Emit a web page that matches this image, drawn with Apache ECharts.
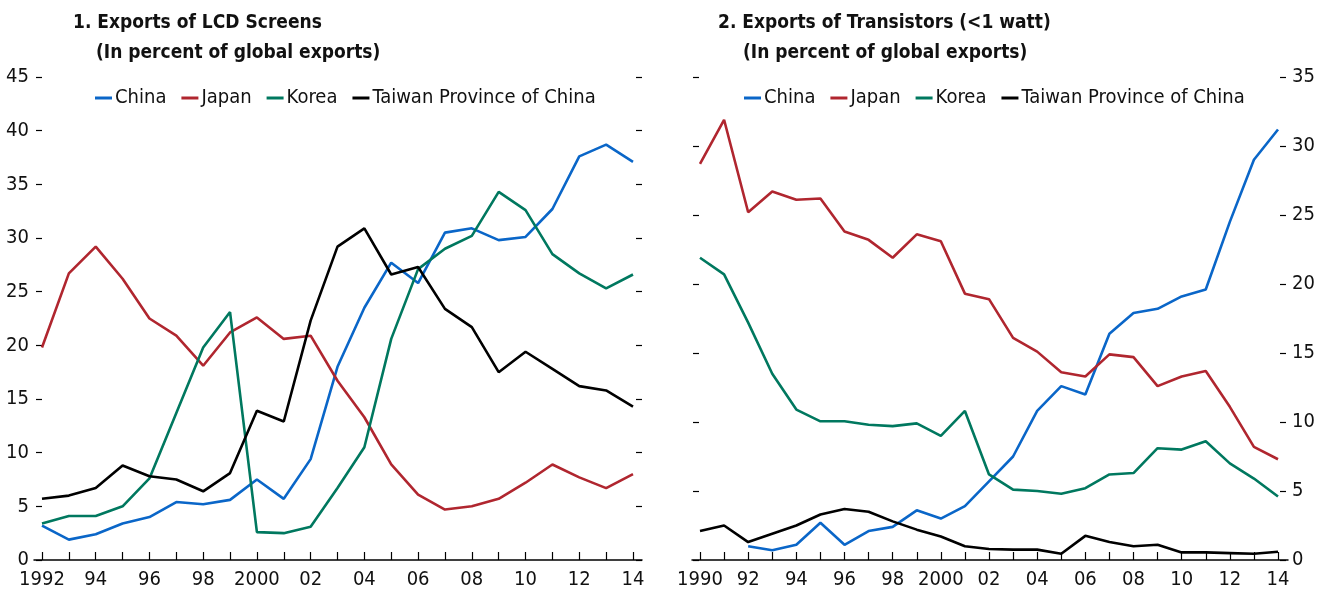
<!DOCTYPE html>
<html>
<head>
<meta charset="utf-8">
<script src="https://cdn.jsdelivr.net/npm/echarts@6/dist/echarts.min.js"></script>
<style>
body{margin:0;background:#fff}
#main{width:1325px;height:598px}
</style>
</head>
<body>
<div id="main"></div>
<script>
/*数据*/
var yearsLcd=['1992','1993','1994','1995','1996','1997','1998','1999','2000','2001','2002','2003','2004','2005','2006','2007','2008','2009','2010','2011','2012','2013','2014'];
var yearsTr=['1990','1991','1992','1993','1994','1995','1996','1997','1998','1999','2000','2001','2002','2003','2004','2005','2006','2007','2008','2009','2010','2011','2012','2013','2014'];
var seriesNames=['China','Japan','Korea','Taiwan Province of China'];
var lcdChina=[3.2,1.9,2.4,3.4,4.0,5.4,5.2,5.6,7.5,5.7,9.4,18.0,23.5,27.7,25.8,30.5,30.9,29.8,30.1,32.7,37.6,38.7,37.1];
var lcdJapan=[19.8,26.7,29.2,26.2,22.5,20.9,18.1,21.2,22.6,20.6,20.9,16.7,13.3,8.9,6.1,4.7,5.0,5.7,7.2,8.9,7.7,6.7,8.0];
var lcdKorea=[3.4,4.1,4.1,5.0,7.6,13.7,19.8,23.1,2.6,2.5,3.1,6.7,10.5,20.6,27.1,29.0,30.2,34.3,32.6,28.5,26.7,25.3,26.6];
var lcdTaiwan=[5.7,6.0,6.7,8.8,7.8,7.5,6.4,8.1,13.9,12.9,22.3,29.2,30.9,26.6,27.3,23.4,21.7,17.5,19.4,17.8,16.2,15.8,14.3];
var trChina=[null,null,1.0,0.7,1.1,2.7,1.1,2.1,2.4,3.6,3.0,3.9,5.7,7.5,10.8,12.6,12.0,16.4,17.9,18.2,19.1,19.6,24.5,29.0,31.2];
var trJapan=[28.7,31.9,25.2,26.7,26.1,26.2,23.8,23.2,21.9,23.6,23.1,19.3,18.9,16.1,15.1,13.6,13.3,14.9,14.7,12.6,13.3,13.7,11.1,8.2,7.3];
var trKorea=[21.9,20.7,17.2,13.5,10.9,10.05,10.05,9.8,9.7,9.9,9.0,10.8,6.2,5.1,5.0,4.8,5.2,6.2,6.3,8.1,8.0,8.6,7.0,5.9,4.6];
var trTaiwan=[2.1,2.5,1.3,1.9,2.5,3.3,3.7,3.5,2.8,2.2,1.7,1.0,0.8,0.75,0.75,0.45,1.75,1.3,1.0,1.1,0.55,0.55,0.5,0.45,0.6];
var colors=['#0a66c8','#b0262f','#00785f','#000000'];

var fontF='"Liberation Sans Narrow","DejaVu Sans Condensed",sans-serif';
var myChart=echarts.init(document.getElementById('main'),null,{renderer:'canvas'});

// 第一个标签写全年份, 2000 也写全
function xAx(idx,data){
	return {
		type:'category',gridIndex:idx,data:data,boundaryGap:false,
		axisLine:{show:false},
		axisTick:{show:true,inside:true,length:8,interval:0,lineStyle:{color:'#000',width:1.2}},
		axisLabel:{
			interval:function(i,v){return parseInt(v)%2===0;},
			formatter:function(v,i){
				if(i===0||v==='2000')return v;
				return v.slice(2);
			},
			color:'#111',fontSize:20,fontFamily:fontF,margin:10
		},
		splitLine:{show:false}
	}
}
function yAx(idx,max,pos,showLabel,offset,margin){
	return {
		type:'value',gridIndex:idx,min:0,max:max,interval:5,position:pos,offset:offset,
		axisLine:{show:false},
		axisTick:{show:true,length:6,lineStyle:{color:'#000',width:1.2}},
		axisLabel:{show:showLabel,color:'#111',fontSize:20,fontFamily:fontF,margin:margin},
		splitLine:{show:false}
	}
}
// 只画底线的坐标轴, 比数据区宽一点
function baseX(idx){
	return {type:'value',gridIndex:idx,min:0,max:1,show:true,
		axisLine:{show:true,onZero:false,lineStyle:{color:'#000',width:1.5}},
		axisTick:{show:false},axisLabel:{show:false},splitLine:{show:false}};
}
function baseY(idx){
	return {type:'value',gridIndex:idx,min:0,max:1,show:false};
}
function mk(name,data,x,y,i){
	return {name:name,type:'line',data:data,xAxisIndex:x,yAxisIndex:y,symbol:'none',
		lineStyle:{width:2.6,color:colors[i]},itemStyle:{color:colors[i]},connectNulls:false,z:3};
}
var titleStyle={color:'#111',fontSize:19,fontWeight:'bold',fontFamily:fontF};
var legendBase={
	data:seriesNames,icon:'rect',itemWidth:17,itemHeight:3,itemGap:15,top:83,
	textStyle:{color:'#111',fontSize:20,fontFamily:fontF,padding:[0,0,0,-2]}
};

var option={
	animation:false,
	backgroundColor:'#fff',
	color:colors,
	title:[
		{text:'1. Exports of LCD Screens',left:68,top:9,textStyle:titleStyle},
		{text:'(In percent of global exports)',left:91,top:39,textStyle:titleStyle},
		{text:'2. Exports of Transistors (<1 watt)',left:713,top:9,textStyle:titleStyle},
		{text:'(In percent of global exports)',left:738,top:39,textStyle:titleStyle}
	],
	legend:[
		Object.assign({},legendBase,{left:90}),
		Object.assign({},legendBase,{left:739})
	],
	grid:[
		{left:42,right:692,top:77,bottom:38},
		{left:700,right:47,top:77,bottom:38},
		{left:34,right:683,top:77,bottom:38},
		{left:692,right:37,top:77,bottom:38}
	],
	xAxis:[xAx(0,yearsLcd),xAx(1,yearsTr),baseX(2),baseX(3)],
	yAxis:[
		yAx(0,45,'left',true,0,13),
		yAx(0,45,'right',false,3,6),
		yAx(1,35,'right',true,2,12),
		yAx(1,35,'left',false,1,6),
		baseY(2),baseY(3)
	],
	series:[
		mk('China',lcdChina,0,0,0),
		mk('Japan',lcdJapan,0,0,1),
		mk('Korea',lcdKorea,0,0,2),
		mk('Taiwan Province of China',lcdTaiwan,0,0,3),
		mk('China',trChina,1,2,0),
		mk('Japan',trJapan,1,2,1),
		mk('Korea',trKorea,1,2,2),
		mk('Taiwan Province of China',trTaiwan,1,2,3)
	]
};
myChart.setOption(option);
</script>
</body>
</html>
